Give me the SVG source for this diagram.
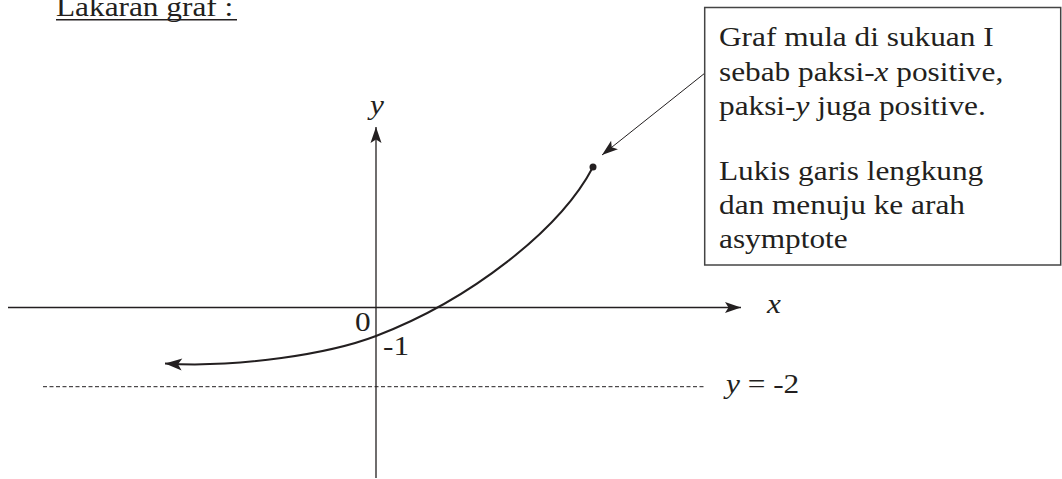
<svg xmlns="http://www.w3.org/2000/svg" width="1062" height="479" viewBox="0 0 1062 479">
<style>
text{font-family:"Liberation Serif","Times New Roman",serif;font-size:27px;fill:#231f20}
.it{font-style:italic}
.ax{stroke:#231f20;stroke-width:1.3;fill:none}
.crv{stroke:#231f20;stroke-width:2;fill:none}
</style>
<defs>
<marker id="ah" viewBox="-17 -7 18 14" markerWidth="18" markerHeight="14" refX="0" refY="0" orient="auto" markerUnits="userSpaceOnUse">
<path d="M0,0 L-16,-5.5 L-12.5,0 L-16,5.5 Z" fill="#231f20"/>
</marker>
<marker id="ah2" viewBox="-18 -7 19 14" markerWidth="19" markerHeight="14" refX="0" refY="0" orient="auto" markerUnits="userSpaceOnUse">
<path d="M0,0 L-17,-6 L-13,0 L-17,6 Z" fill="#231f20"/>
</marker>
</defs>
<g id="title">
<g transform="translate(56,0) scale(1.16,1)"><text x="0" y="16">Lakaran graf :</text></g>
<rect x="56" y="19" width="181" height="1.5" fill="#231f20"/>
</g>
<g id="connectors">
<line id="x-axis" class="ax" x1="8" y1="307.5" x2="741" y2="307.5" marker-end="url(#ah)"/>
<line id="y-axis" class="ax" x1="376" y1="478" x2="376" y2="127" marker-end="url(#ah)"/>
<line id="asymptote" x1="43" y1="386.7" x2="706" y2="386.7" stroke="#231f20" stroke-width="1" stroke-dasharray="4 2.5"/>
<path id="curve" class="crv" d="M593,167 C560,230 470,300 376,336 C330,353.6 240,368 165,363.5" marker-end="url(#ah2)"/>
<line id="pointer" x1="705" y1="73" x2="602" y2="155" stroke="#231f20" stroke-width="1" marker-end="url(#ah)"/>
</g>
<g id="start-dot"><circle cx="593" cy="167" r="3.5" fill="#231f20"/></g>
<g id="labels">
<g transform="translate(370,0) scale(1.16,1)"><text class="it" x="0" y="114">y</text></g>
<g transform="translate(767,0) scale(1.16,1)"><text class="it" x="0" y="313">x</text></g>
<g transform="translate(355,0) scale(1.16,1)"><text x="0" y="331">0</text></g>
<g transform="translate(383,0) scale(1.16,1)"><text x="0" y="355">-1</text></g>
<g transform="translate(726,0) scale(1.16,1)"><text x="0" y="393"><tspan class="it">y</tspan> = -2</text></g>
</g>
<g id="note">
<rect x="704.7" y="7.5" width="356" height="257.5" fill="#fff" stroke="#444" stroke-width="1.5"/>
<g transform="translate(719,0) scale(1.16,1)">
<text x="0" y="46">Graf mula di sukuan I</text>
<text x="0" y="81">sebab paksi-<tspan class="it">x</tspan> positive,</text>
<text x="0" y="115">paksi-<tspan class="it">y</tspan> juga positive.</text>
<text x="0" y="180">Lukis garis lengkung</text>
<text x="0" y="214">dan menuju ke arah</text>
<text x="0" y="248">asymptote</text>
</g>
</g>
</svg>
